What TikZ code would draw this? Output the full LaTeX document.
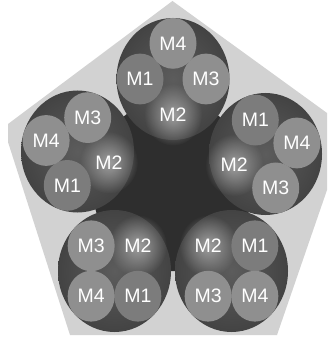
\documentclass[tikz,border=0pt]{standalone}
\usepackage{fontspec}
\setmainfont{Liberation Sans}
\usetikzlibrary{shapes.geometric,fadings,calc}
\definecolor{pentfill}{HTML}{D2D2D2}
\definecolor{coredark}{HTML}{2E2E2E}
\definecolor{bigin}{HTML}{5C5C5C}
\definecolor{bigout}{HTML}{434343}
\definecolor{mlight}{HTML}{8F8F8F}
\definecolor{mdark}{HTML}{7C7C7C}
\definecolor{glowc}{HTML}{A0A0A0}
\tikzfading[name=glowfade, inner color=transparent!0, outer color=transparent!100]
\newcommand\mkcluster[2]{%
  \shade[inner color=bigin, outer color=bigout] (#1) ellipse [x radius=56.5, y radius=61];
  \fill[glowc, path fading=glowfade] ($(#1)+({33*cos(#2+180)},{-35.64*sin(#2+180)})$) ellipse [x radius=29, y radius=31];
  \node[darkm] (#1-m1) at ($(#1)+({33*cos(#2+90)},{-35.64*sin(#2+90)})$) {M1};
  \node[lightm] (#1-m3) at ($(#1)+({33*cos(#2-90)},{-35.64*sin(#2-90)})$) {M3};
  \node[lightm] (#1-m4) at ($(#1)+({33*cos(#2)},{-35.64*sin(#2)})$) {M4};
  \node[glowlabel] (#1-m2) at ($(#1)+({33*cos(#2+180)},{-35.64*sin(#2+180)})$) {M2};
}
\begin{document}
\begin{tikzpicture}[x=1pt,y=-1pt,
  labelfont/.style={text=white, font=\fontsize{19.5}{19.5}\selectfont},
  small/.style={ellipse, inner sep=0pt, minimum width=47pt, minimum height=50.8pt, labelfont},
  lightm/.style={small, fill=mlight},
  darkm/.style={small, fill=mdark},
  glowlabel/.style={inner sep=0pt, labelfont}]
\fill[white] (0,0) rectangle (329,339);
\useasboundingbox (0,0) rectangle (329,339);
% outer pentagon
\fill[pentfill] (172.5,1) -- (327,113) -- (327,190) -- (277,335) -- (70,335) -- (8,142) -- (8,124) -- cycle;
% cluster centres
\coordinate (top) at (173,79);
\coordinate (left) at (77.5,151.5);
\coordinate (right) at (265.5,154);
\coordinate (botleft) at (114.5,271);
\coordinate (botright) at (231.5,271);
% dark core
\fill[coredark] (top) -- (left) -- (botleft) -- (botright) -- (right) -- cycle;
% clusters
\mkcluster{top}{90}
\mkcluster{left}{162}
\mkcluster{right}{18}
\mkcluster{botleft}{225}
\mkcluster{botright}{315}
\end{tikzpicture}
\end{document}
